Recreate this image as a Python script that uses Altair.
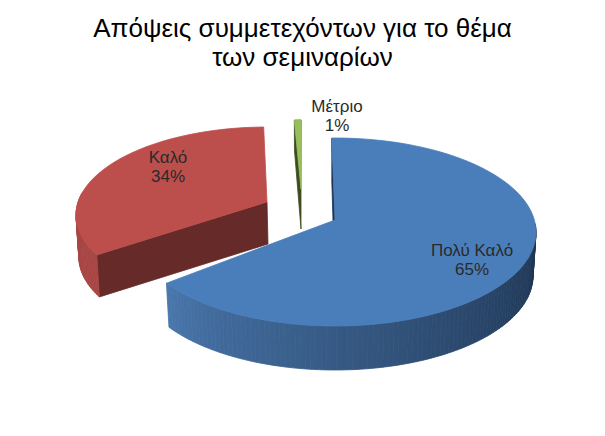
import math
import altair as alt

# ---- chart values
categories = ["Πολύ Καλό", "Καλό", "Μέτριο"]
shares = [65.4, 33.7, 0.9]
label_pct = ["65%", "34%", "1%"]
top_colors = ["#4a7ebb", "#bc4f4c", "#98c05a"]
wall_colors = ["#1d3350", "#662a28", "#3f4a20"]
title_lines = ["Απόψεις συμμετεχόντων για το θέμα", "των σεμιναρίων"]

# ---- layout of the drawn pie (pixel geometry of the page)
TOP = 68            # title height above the view, minus the page margin offset
DEPTH = [44, 42, 40]
CENTER = [(335, 233), (267, 216), (303, 199)]
APEX = [(335, 221), (267, 203), (301, 190)]
RX = [201, 191, 120]
RY = [94, 88, 78]
ROTATION = -0.9
BLUE_END_VIEW = 237.0       # perspective-corrected end of the blue slice
RED_VIEW = (243.0, 359.0)   # perspective-corrected angles of the exploded red slice
LABEL_AT = [(472, 252), (168, 159), (337, 108)]


def mix(a, b, t):
    ca = [int(a[i:i + 2], 16) for i in (1, 3, 5)]
    cb = [int(b[i:i + 2], 16) for i in (1, 3, 5)]
    return "#%02x%02x%02x" % tuple(round(x + (y - x) * t) for x, y in zip(ca, cb))


def pt(i, deg, drop=0.0):
    a = math.radians(deg)
    shrink = 0.985 if drop > 0 else 1.0
    x = CENTER[i][0] + RX[i] * shrink * math.sin(a)
    y = CENTER[i][1] - RY[i] * math.cos(a) + drop
    return [x, y]


def feat(ring, fill):
    return {
        "type": "Feature",
        "geometry": {"type": "Polygon", "coordinates": [ring + [ring[0]]]},
        "properties": {"fill": fill},
    }


spans = []
acc = 0.0
for s in shares:
    spans.append((acc * 3.6 + ROTATION, (acc + s) * 3.6 + ROTATION))
    acc += s

features = []

# green sliver: inner wall then top
g0, g1 = spans[2]
features.append(feat([pt(2, g0), pt(2, g1), list(APEX[2]),
                      [APEX[2][0], APEX[2][1] + DEPTH[2]], pt(2, g0, 30)], wall_colors[2]))
ga = [pt(2, g0 + (g1 - g0) * k / 4) for k in range(5)]
features.append(feat(ga + [list(APEX[2])], top_colors[2]))

# red: front wall, outer wall, top
r0, r1 = RED_VIEW
features.append(feat([list(APEX[1]), pt(1, r0), pt(1, r0, DEPTH[1]),
                      [APEX[1][0] + 1, APEX[1][1] + DEPTH[1]]], wall_colors[1]))
d = r0
while d < 285:
    e = d + 1.5
    features.append(feat([pt(1, d), pt(1, e), pt(1, e, DEPTH[1]), pt(1, d, DEPTH[1])], "#a84644"))
    d = e
steps = 40
ra = [pt(1, r0 + (r1 - r0) * k / steps) for k in range(steps + 1)]
features.append(feat(ra + [list(APEX[1])], top_colors[1]))

# blue: right inner wall, outer wall with a shaded sweep, top
b0, b1 = spans[0][0], BLUE_END_VIEW
features.append(feat([pt(0, b0), list(APEX[0]), [APEX[0][0] - 2, APEX[0][1] + 1],
                      [pt(0, b0)[0], pt(0, b0)[1] + DEPTH[0]]], wall_colors[0]))
d = 85.0
while d < b1:
    e = min(d + 1.5, b1)
    t = (b1 - d) / (b1 - 85.0)
    features.append(feat([pt(0, d), pt(0, e), pt(0, e, DEPTH[0]), pt(0, d, DEPTH[0])],
                         mix("#4a78ae", wall_colors[0], t ** 0.85)))
    d = e
steps = 80
ba = [pt(0, b0 + (b1 - b0) * k / steps) for k in range(steps + 1)]
features.append(feat(ba + [list(APEX[0])], top_colors[0]))

labels = [{"lon": x, "lat": y, "line": [c, p]}
          for (x, y), c, p in zip(LABEL_AT, categories, label_pct)]

projection = alt.Projection(type="identity", scale=1, translate=[-8, -8 - TOP])

shapes = alt.Chart(alt.Data(values=features)).mark_geoshape(strokeWidth=0.8).encode(
    fill=alt.Color("properties.fill:N", scale=None),
    stroke=alt.Color("properties.fill:N", scale=None),
).project(**projection.to_dict())

text = alt.Chart(alt.Data(values=labels)).mark_text(
    font="Liberation Sans", fontSize=17, color="#2a2a2a", lineHeight=19, baseline="middle"
).encode(
    longitude="lon:Q", latitude="lat:Q", text="line:N"
).project(**projection.to_dict())

chart = alt.layer(shapes, text).properties(
    width=589,
    height=340,
    padding={"left": 0, "right": 0, "top": 8, "bottom": 0},
    autosize=alt.AutoSizeParams(type="pad"),
    background="white",
    title=alt.TitleParams(
        text=title_lines, font="Liberation Sans", fontSize=26, fontWeight="normal",
        color="#000000", anchor="middle", lineHeight=29, offset=4, frame="group",
    ),
).configure_view(stroke=None)

chart.save("out.html", embed_options={"renderer": "svg", "actions": False})
